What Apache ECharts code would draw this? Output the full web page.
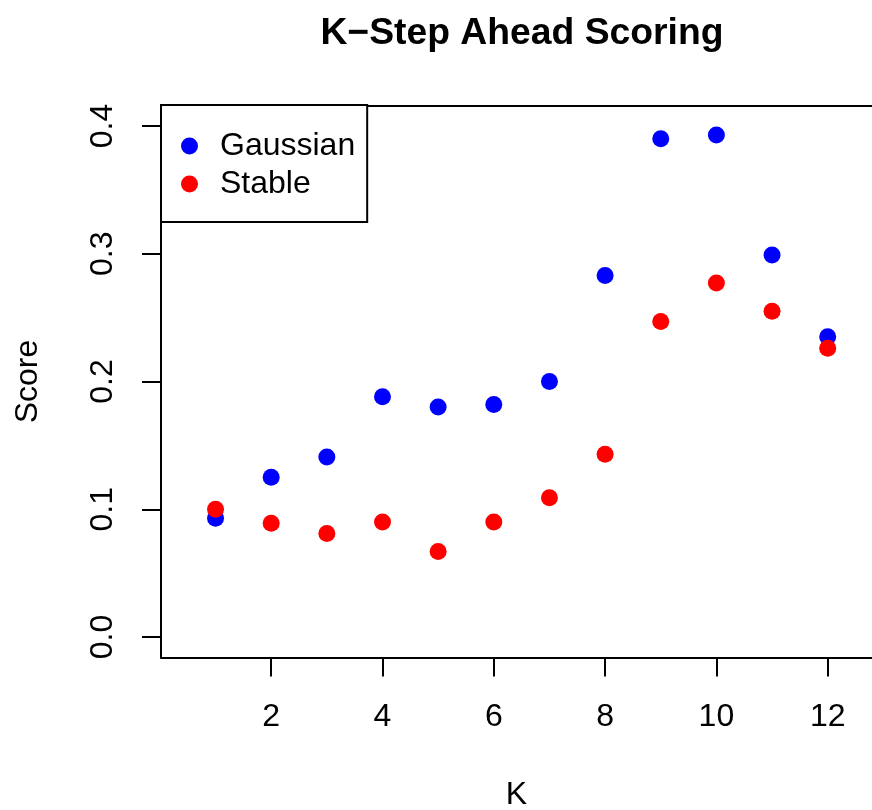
<!DOCTYPE html>
<html>
<head>
<meta charset="utf-8">
<script src="https://cdn.jsdelivr.net/npm/echarts@6/dist/echarts.min.js"></script>
<style>
  html, body { margin: 0; padding: 0; background: #fff; }
  #chart { width: 872px; height: 810px; }
</style>
</head>
<body>
<div id="chart"></div>
<script>
// K-step ahead scores for the two error models
const kSteps = [1, 2, 3, 4, 5, 6, 7, 8, 9, 10, 11, 12];
const gaussianScore = [0.093, 0.125, 0.141, 0.188, 0.180, 0.182, 0.200, 0.283, 0.390, 0.393, 0.299, 0.235];
const stableScore = [0.100, 0.089, 0.081, 0.090, 0.067, 0.090, 0.109, 0.143, 0.247, 0.277, 0.255, 0.226];

// Axis tick positions
const xTicks = [2, 4, 6, 8, 10, 12];
const yTicks = [0, 0.1, 0.2, 0.3, 0.4];

const FONT = '"Liberation Sans", Arial, Helvetica, sans-serif';
const FS = 32;

const pairs = (xs, ys) => xs.map((x, i) => [x, ys[i]]);

const chart = echarts.init(document.getElementById('chart'), null, { renderer: 'canvas' });

// Plot frame: the plotting region runs past the right edge of the canvas,
// so only the left, bottom and top sides of the box are drawn.
const frameLine = { show: true, onZero: false, lineStyle: { color: '#000', width: 2 } };

chart.setOption({
  backgroundColor: '#ffffff',
  animation: false,
  textStyle: { fontFamily: FONT, color: '#000' },
  title: {
    text: 'K\u2212Step Ahead Scoring',
    left: 517,
    top: 10,
    textAlign: 'center',
    textStyle: { fontFamily: FONT, fontSize: 37.3, fontWeight: 'bold', color: '#000' }
  },
  grid: {
    left: 161,
    right: 0,
    top: 105.5,
    height: 552,
    show: false,
    containLabel: false,
    outerBoundsMode: 'none'
  },
  legend: {
    orient: 'vertical',
    left: 161,
    top: 105,
    icon: 'circle',
    itemWidth: 17,
    itemHeight: 17,
    itemGap: 6,
    padding: [25, 12, 22, 20],
    borderColor: '#000',
    borderWidth: 2,
    backgroundColor: '#fff',
    textStyle: { fontFamily: FONT, fontSize: FS, lineHeight: FS, color: '#000', padding: [0, 0, 0, 17] },
    data: ['Gaussian', 'Stable']
  },
  xAxis: [
    {
      type: 'value',
      position: 'bottom',
      min: 0.02,
      max: 12.796,
      name: 'K',
      nameLocation: 'middle',
      nameGap: 122,
      nameTextStyle: { fontFamily: FONT, fontSize: FS, color: '#000' },
      axisLine: frameLine,
      axisTick: {
        show: true, length: 19, inside: false,
        customValues: xTicks,
        lineStyle: { color: '#000', width: 2 }
      },
      axisLabel: {
        show: true, customValues: xTicks, margin: 44,
        fontFamily: FONT, fontSize: FS, color: '#000'
      },
      splitLine: { show: false }
    },
    {
      type: 'value',
      position: 'top',
      min: 0.02,
      max: 12.796,
      axisLine: frameLine,
      axisTick: { show: false },
      axisLabel: { show: false },
      splitLine: { show: false }
    }
  ],
  yAxis: {
    type: 'value',
    min: -0.016,
    max: 0.416,
    name: 'Score',
    nameLocation: 'middle',
    nameRotate: 90,
    nameGap: 117,
    nameTextStyle: { fontFamily: FONT, fontSize: FS, color: '#000' },
    axisLine: frameLine,
    axisTick: {
      show: true, length: 19, inside: false,
      customValues: yTicks,
      lineStyle: { color: '#000', width: 2 }
    },
    axisLabel: {
      show: true, customValues: yTicks, rotate: 90, margin: 42,
      align: 'center', verticalAlign: 'bottom',
      formatter: v => v.toFixed(1),
      fontFamily: FONT, fontSize: FS, color: '#000'
    },
    splitLine: { show: false }
  },
  series: [
    {
      name: 'Gaussian',
      type: 'scatter',
      xAxisIndex: 0,
      symbol: 'circle',
      symbolSize: 17,
      itemStyle: { color: '#0000ff', opacity: 1 },
      data: pairs(kSteps, gaussianScore),
      z: 2
    },
    {
      name: 'Stable',
      type: 'scatter',
      xAxisIndex: 0,
      symbol: 'circle',
      symbolSize: 17,
      itemStyle: { color: '#ff0000', opacity: 1 },
      data: pairs(kSteps, stableScore),
      z: 3
    }
  ]
});
</script>
</body>
</html>
